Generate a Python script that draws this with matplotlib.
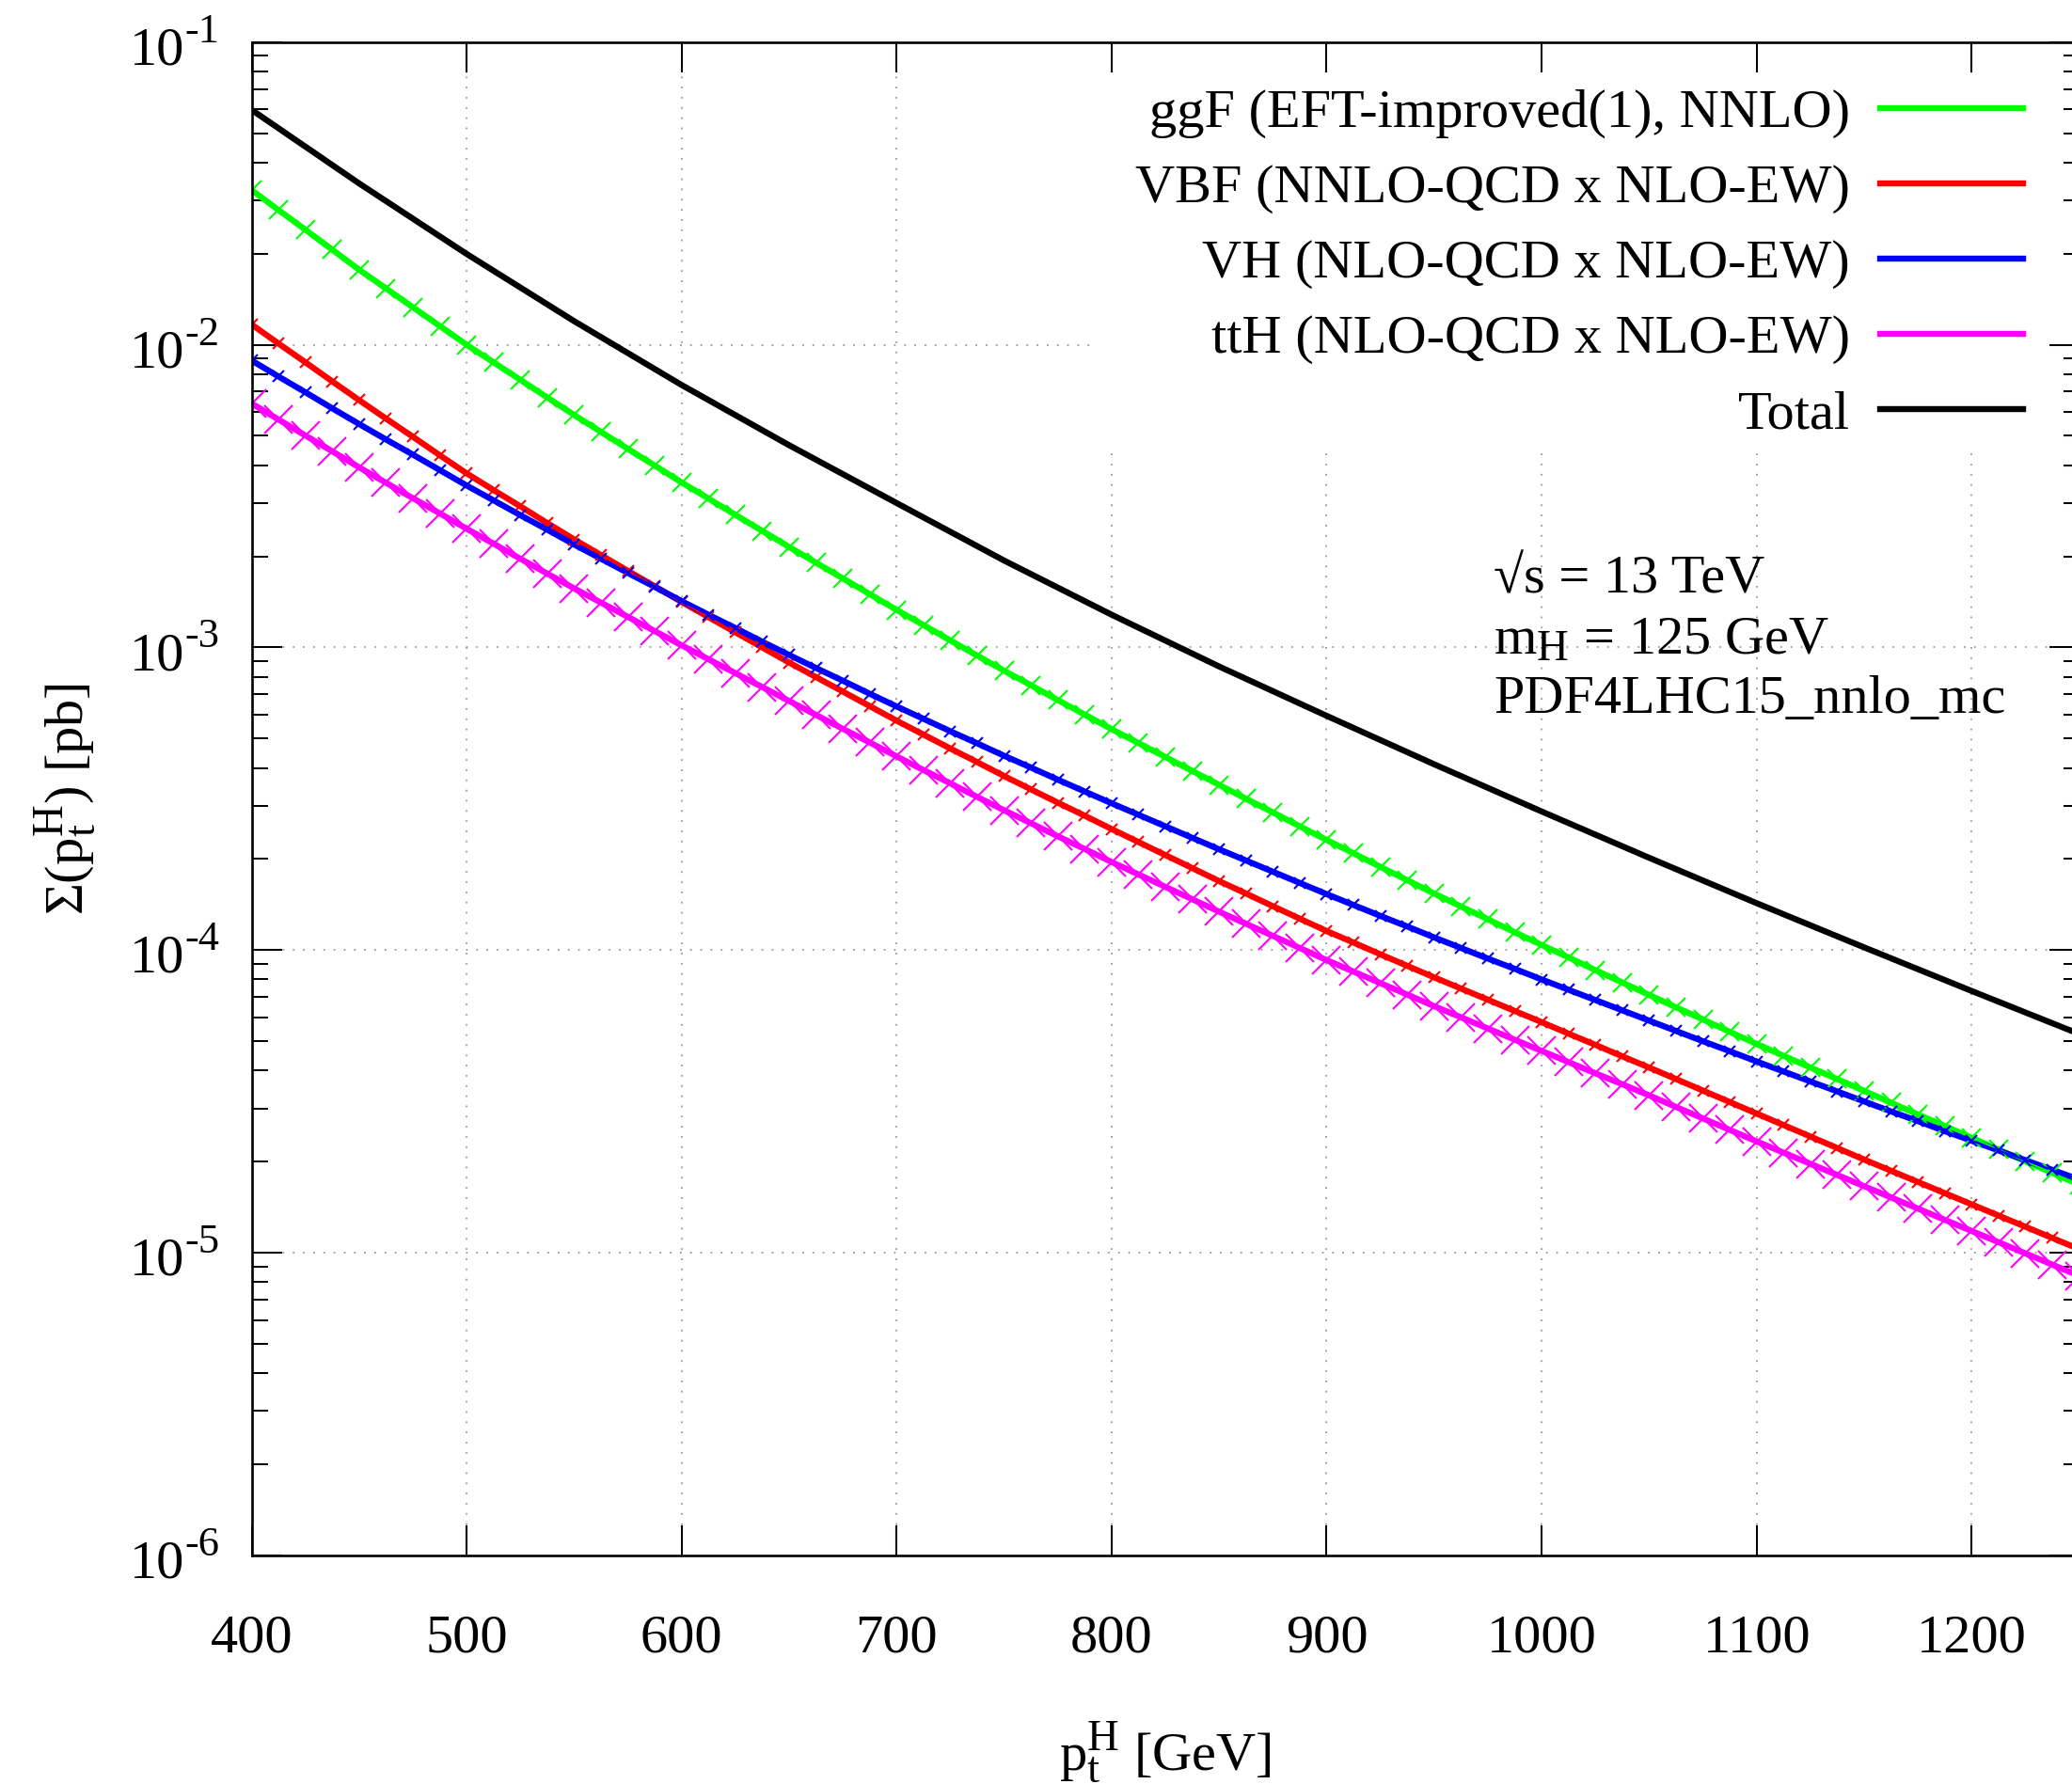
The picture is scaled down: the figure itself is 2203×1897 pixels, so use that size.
import numpy as np
import matplotlib
matplotlib.use("Agg")
import matplotlib.pyplot as plt
import matplotlib._mathtext as mathtext_internals
from matplotlib import transforms
from matplotlib.patches import Rectangle
from matplotlib.ticker import LogLocator, NullFormatter, NullLocator

plt.rcParams["font.family"] = ["Liberation Serif", "DejaVu Serif"]
plt.rcParams["mathtext.fontset"] = "custom"
plt.rcParams["mathtext.rm"] = "Liberation Serif"
plt.rcParams["mathtext.it"] = "Liberation Serif:italic"
plt.rcParams["mathtext.bf"] = "Liberation Serif:bold"
# gnuplot-like sub/superscripts are a bit bigger than mathtext's default
mathtext_internals.SHRINK_FACTOR = 0.8

# pT^H of the points (GeV)
pt = np.arange(400, 1250.1, 12.5)
pt_total = np.arange(400, 1250.1, 50)

# log10 of Sigma(pT^H) in pb
ggf_log = [
    -1.489, -1.555, -1.620, -1.686, -1.752, -1.814, -1.876, -1.938,
    -2.000, -2.058, -2.116, -2.174, -2.232, -2.288, -2.344, -2.399,
    -2.455, -2.508, -2.562, -2.615, -2.668, -2.720, -2.772, -2.824,
    -2.876, -2.926, -2.977, -3.027, -3.077, -3.125, -3.174, -3.222,
    -3.270, -3.316, -3.362, -3.408, -3.454, -3.500, -3.545, -3.591,
    -3.636, -3.680, -3.725, -3.769, -3.813, -3.856, -3.898, -3.941,
    -3.983, -4.024, -4.066, -4.107, -4.148, -4.189, -4.229, -4.270,
    -4.310, -4.349, -4.388, -4.426, -4.465, -4.504, -4.543, -4.581,
    -4.620, -4.659, -4.698, -4.736, -4.775]
vbf_log = [
    -1.933, -1.996, -2.058, -2.121, -2.183, -2.244, -2.304, -2.365,
    -2.425, -2.480, -2.534, -2.589, -2.643, -2.695, -2.747, -2.798,
    -2.850, -2.900, -2.950, -3.000, -3.050, -3.098, -3.146, -3.194,
    -3.242, -3.288, -3.334, -3.379, -3.425, -3.469, -3.513, -3.556,
    -3.600, -3.643, -3.686, -3.729, -3.772, -3.813, -3.855, -3.896,
    -3.937, -3.975, -4.014, -4.052, -4.090, -4.127, -4.164, -4.201,
    -4.238, -4.276, -4.313, -4.351, -4.388, -4.426, -4.464, -4.502,
    -4.540, -4.578, -4.616, -4.654, -4.692, -4.729, -4.766, -4.803,
    -4.840, -4.877, -4.914, -4.951, -4.988]
vh_log = [
    -2.052, -2.105, -2.157, -2.210, -2.262, -2.313, -2.363, -2.414,
    -2.465, -2.514, -2.563, -2.611, -2.660, -2.707, -2.754, -2.800,
    -2.847, -2.892, -2.936, -2.981, -3.025, -3.068, -3.110, -3.153,
    -3.195, -3.236, -3.277, -3.317, -3.358, -3.397, -3.437, -3.476,
    -3.515, -3.553, -3.591, -3.629, -3.667, -3.704, -3.741, -3.778,
    -3.815, -3.851, -3.887, -3.922, -3.958, -3.993, -4.028, -4.062,
    -4.097, -4.131, -4.165, -4.199, -4.233, -4.267, -4.301, -4.334,
    -4.368, -4.401, -4.434, -4.467, -4.500, -4.533, -4.565, -4.598,
    -4.630, -4.662, -4.694, -4.726, -4.758]
tth_log = [
    -2.194, -2.247, -2.300, -2.352, -2.405, -2.456, -2.507, -2.557,
    -2.608, -2.657, -2.707, -2.756, -2.805, -2.852, -2.899, -2.946,
    -2.993, -3.039, -3.085, -3.131, -3.177, -3.223, -3.269, -3.314,
    -3.360, -3.405, -3.449, -3.494, -3.538, -3.581, -3.624, -3.666,
    -3.709, -3.750, -3.791, -3.832, -3.873, -3.913, -3.953, -3.993,
    -4.033, -4.071, -4.109, -4.147, -4.185, -4.222, -4.259, -4.296,
    -4.333, -4.370, -4.407, -4.443, -4.480, -4.518, -4.556, -4.594,
    -4.632, -4.669, -4.706, -4.743, -4.780, -4.817, -4.854, -4.891,
    -4.928, -4.965, -5.002, -5.039, -5.076]
total_log = [-1.224, -1.467, -1.700, -1.922, -2.133, -2.332, -2.523, -2.713,
             -2.892, -3.063, -3.226, -3.386, -3.542, -3.695, -3.845, -3.991,
             -4.135, -4.277]

labels = ["ggF (EFT-improved(1), NNLO)", "VBF (NNLO-QCD x NLO-EW)",
          "VH (NLO-QCD x NLO-EW)", "ttH (NLO-QCD x NLO-EW)", "Total"]
colors = ["#00ff00", "#ff0000", "#0000ff", "#ff00ff", "black"]
marker_sizes = [15, 8, 8, 21]

FS = 42

fig = plt.figure(figsize=(22.03, 18.97), dpi=100)
W, H = 2203.0, 1897.0
ax = fig.add_axes([267.5 / W, (H - 1654) / H, 1943.1 / W, 1609.3 / H])

ax.set_yscale("log")
ax.set_xlim(400, 1250)
ax.set_ylim(1e-6, 1e-1)

# dotted grid, drawn by hand so the key box can hide part of it
xt = list(range(400, 1201, 100))
for v in xt[1:]:
    ax.axvline(v, color="#9a9a9a", lw=1.3, ls=(0, (1, 5)), zorder=0.5)
for e in range(-5, -1):
    ax.axhline(10.0 ** e, color="#9a9a9a", lw=1.3, ls=(0, (1, 5)), zorder=0.5)
ax.add_patch(Rectangle((0.4609, 0.7332), 0.5391, 0.2668, transform=ax.transAxes,
                       facecolor="white", edgecolor="none", zorder=0.8))

handles = []
for logs, c, ms in zip([ggf_log, vbf_log, vh_log, tth_log], colors[:4], marker_sizes):
    vals = 10.0 ** np.asarray(logs)
    h, = ax.plot(pt, vals, color=c, lw=4.6, zorder=2)
    ax.plot(pt, vals, color=c, lw=1.4, marker="x", ms=ms, mew=1.5, zorder=2.1)
    handles.append(h)
h, = ax.plot(pt_total, 10.0 ** np.asarray(total_log), color="black", lw=4.6, zorder=2.2)
handles.append(h)

# ticks
ax.set_xticks(xt)
ax.xaxis.set_minor_locator(NullLocator())
ax.yaxis.set_major_locator(LogLocator(base=10, numticks=20))
ax.yaxis.set_minor_locator(LogLocator(base=10, subs=np.arange(2, 10), numticks=20))
ax.yaxis.set_minor_formatter(NullFormatter())
ax.tick_params(which="both", direction="in", top=True, right=True, width=1.45)
ax.tick_params(which="major", length=23)
ax.tick_params(which="minor", length=12)
ax.tick_params(axis="x", labelsize=FS, pad=45)
ax.tick_params(axis="y", labelleft=False)
for s in ax.spines.values():
    s.set_linewidth(1.9)

# y tick labels as 10 with a raised exponent
blend = transforms.blended_transform_factory(fig.transFigure, ax.transData)
mant_tr = transforms.offset_copy(blend, fig=fig, y=-17.0, units="points")
for e in range(-6, 0):
    fig.text(196 / W, 10.0 ** e, "10", transform=mant_tr, ha="right", va="baseline", fontsize=FS)
    fig.text(196 / W, 10.0 ** e, "-%d" % (-e), transform=blend, ha="left", va="baseline",
             fontsize=32)

ax.set_xlabel(r"$\mathregular{p_t^H}$ [GeV]", fontsize=FS, va="baseline")
ax.xaxis.set_label_coords(0.5, -0.1417)
ax.set_ylabel(r"$\mathregular{\Sigma(p_t^H)}$ [pb]", fontsize=FS, va="center")
ax.yaxis.set_label_coords(-0.1016, 0.5)

ax.legend(handles, labels, loc="upper right", bbox_to_anchor=(0.9693, 0.9692),
          frameon=False, markerfirst=False, handlelength=2.6, handletextpad=0.55,
          labelspacing=0.462, borderpad=0, borderaxespad=0, fontsize=FS)

ax.text(0.6796, 0.6363, "\u221as = 13 TeV", transform=ax.transAxes, fontsize=FS, va="baseline")
ax.text(0.6796, 0.5959, r"$\mathregular{m_H}$ = 125 GeV", transform=ax.transAxes,
        fontsize=FS, va="baseline")
ax.text(0.6796, 0.5568, "PDF4LHC15_nnlo_mc", transform=ax.transAxes, fontsize=FS, va="baseline")

fig.savefig("out.png", dpi=100)
